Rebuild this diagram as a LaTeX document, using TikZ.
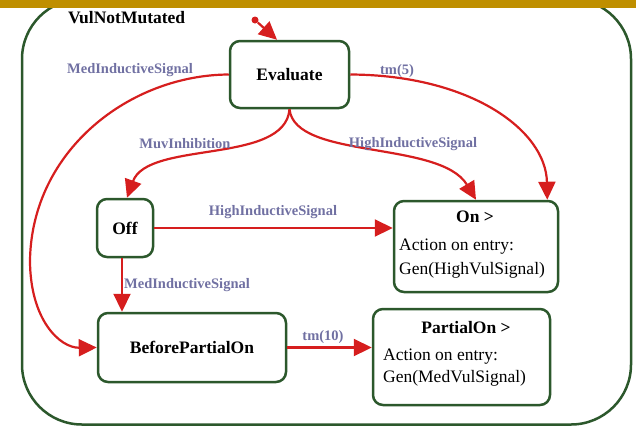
\documentclass[tikz,border=0pt]{standalone}
\usepackage{fontspec}
\setmainfont{Liberation Serif}
\usetikzlibrary{arrows.meta,calc}

\definecolor{stgreen}{RGB}{44,88,44}
\definecolor{trred}{RGB}{214,30,30}
\definecolor{lblblue}{RGB}{112,112,162}
\definecolor{bargold}{RGB}{191,143,0}

\begin{document}
\begin{tikzpicture}[x=1pt,y=-1pt,
  state/.style={draw=stgreen, line width=2.5pt, rounded corners=10pt, fill=white,
    inner sep=0pt, font=\fontsize{17.5}{20}\selectfont\bfseries},
  trans/.style={draw=trred, line width=2.2pt, -{Triangle[length=18pt,width=17pt]}},
  lbl/.style={text=lblblue, inner sep=0pt, font=\fontsize{14.5}{16}\selectfont\bfseries},
  head/.style={inner sep=0pt, font=\fontsize{17.5}{20}\selectfont\bfseries},
  entry/.style={inner sep=0pt, anchor=west, font=\fontsize{17.5}{20}\selectfont}
]
\useasboundingbox (0,0) rectangle (636,426);

% composite state
\draw[stgreen, line width=2.5pt, rounded corners=60pt] (22,-1) rectangle (631,424.5);
\fill[bargold] (0,0) rectangle (636,8);
\node[head, anchor=west] (title) at (68,18) {VulNotMutated};

% substates
\node[state, minimum width=119pt, minimum height=67pt] (eval) at (289.5,74.5) {Evaluate};
\node[state, minimum width=56pt, minimum height=58pt] (off) at (125,228) {Off};
\node[state, minimum width=164pt, minimum height=91pt] (on) at (476,246.5) {};
\node[state, minimum width=188pt, minimum height=69pt] (bpo) at (192,347.5) {BeforePartialOn};
\node[state, minimum width=177pt, minimum height=96pt] (pon) at (461.5,357) {};

% entry actions
\node[head] (onhead) at (475,217) {On >};
\node[entry] (onact) at (399,247) {Action on entry:};
\node[entry] (ongen) at (399,270) {Gen(HighVulSignal)};
\node[head] (ponhead) at (466,328) {PartialOn >};
\node[entry] (ponact) at (383,357) {Action on entry:};
\node[entry] (pongen) at (383,378) {Gen(MedVulSignal)};

% initial pseudostate
\node[circle, fill=trred, inner sep=0pt, minimum size=7pt] (init) at (255,20) {};
\draw[trans] (init) -- ([xshift=-12.5pt]eval.north);

% transitions
\draw[trans] (eval.west) .. controls (130,75) and (32,150) .. (30,260)
  .. controls (30,320) and (60,348) .. (bpo.west);
\draw[trans] (eval.east) .. controls (470,75) and (546,130) .. ([xshift=-12pt]on.north east);
\draw[trans] (eval.south) .. controls (285,165) and (148,140) .. ([xshift=2pt]off.north);
\draw[trans] (eval.south) .. controls (295,160) and (440,140) .. (on.north);
\draw[trans] (off.east) -- (on.west |- off.east);
\draw[trans] (off.south -| 122,0) -- (bpo.north -| 122,0);
\draw[trans] (bpo.east) -- (pon.west |- bpo.east);

% transition labels
\node[lbl] (l1) at (130,70) {MedInductiveSignal};
\node[lbl] (l2) at (397,71) {tm(5)};
\node[lbl] (l3) at (185,144) {MuvInhibition};
\node[lbl] (l4) at (413,144) {HighInductiveSignal};
\node[lbl] (l5) at (273,212) {HighInductiveSignal};
\node[lbl] (l6) at (187,285) {MedInductiveSignal};
\node[lbl] (l7) at (323,337) {tm(10)};
\end{tikzpicture}
\end{document}
